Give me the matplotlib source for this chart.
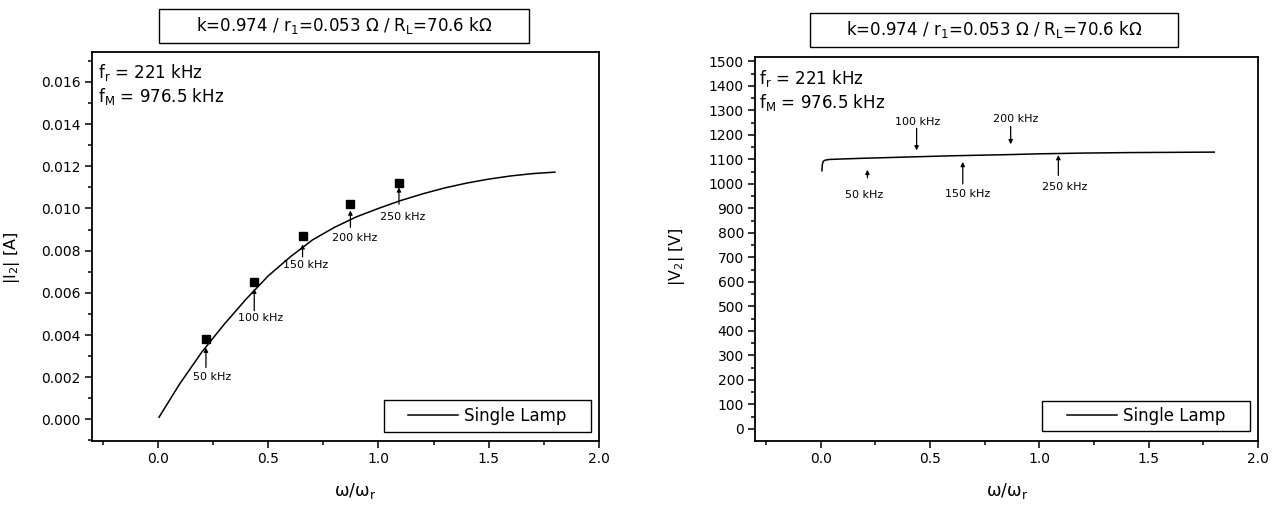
import matplotlib
matplotlib.use("Agg")
import matplotlib.pyplot as plt
from matplotlib.patches import Rectangle
from matplotlib.ticker import MultipleLocator, FormatStrFormatter

plt.rcParams['font.family'] = ['DejaVu Sans']
plt.rcParams['mathtext.fontset'] = 'dejavusans'
plt.rcParams['mathtext.default'] = 'regular'

# ---- data: left panel (|I2| vs w/wr) ----
curve_i_x = [0.005, 0.1, 0.2, 0.3, 0.4, 0.5, 0.6, 0.7, 0.8, 0.9, 1.0, 1.1, 1.2, 1.3, 1.4, 1.5, 1.6, 1.7, 1.8]
curve_i_y = [0.0001, 0.0017, 0.0032, 0.0045, 0.0057, 0.0068, 0.0077, 0.0085, 0.0091, 0.0096,
             0.01000, 0.01037, 0.01069, 0.01097, 0.01120, 0.01139, 0.01154, 0.01165, 0.01172]
meas_x = [0.218, 0.437, 0.656, 0.873, 1.093]
meas_y = [0.0038, 0.0065, 0.0087, 0.0102, 0.0112]
freq_labels = ['50 kHz', '100 kHz', '150 kHz', '200 kHz', '250 kHz']
i_arrow_tail = [0.00246, 0.00515, 0.0077, 0.0091, 0.0102]
i_arrow_tip = [0.0034, 0.0062, 0.0083, 0.0099, 0.0110]
i_label_x = [0.245, 0.467, 0.668, 0.894, 1.11]
i_label_y = [0.0020, 0.0048, 0.0073, 0.0086, 0.0096]

# ---- data: right panel (|V2| vs w/wr) ----
curve_v_x = [0.006, 0.008, 0.012, 0.02, 0.04, 0.1, 0.2, 0.44, 0.6, 0.87, 1.0, 1.2, 1.4, 1.6, 1.8]
curve_v_y = [1054, 1080, 1092, 1097, 1100, 1102, 1105, 1111, 1115, 1120, 1123, 1126, 1128, 1129, 1130]
v_arrow_x = [0.214, 0.439, 0.65, 0.869, 1.087]
v_arrow_tail = [1025, 1227, 1000, 1235, 1035]
v_arrow_tip = [1058, 1137, 1090, 1162, 1118]
v_label_x = [0.20, 0.445, 0.67, 0.89, 1.115]
v_label_y = [955, 1254, 960, 1264, 986]

title_text = 'k=0.974 / r$_1$=0.053 \u03a9 / R$_L$=70.6 k\u03a9'
info_text = 'f$_r$ = 221 kHz\nf$_M$ = 976.5 kHz'

fig = plt.figure(figsize=(12.82, 5.05), dpi=100)
W, H = 1282.0, 505.0

def ax_rect(x0, y0, x1, y1):
    return [x0 / W, 1 - y1 / H, (x1 - x0) / W, (y1 - y0) / H]

axL = fig.add_axes(ax_rect(91.7, 52.3, 599, 440.7))
axR = fig.add_axes(ax_rect(755, 57.3, 1258, 440.7))

def style(ax, xlab_pos):
    for s in ax.spines.values():
        s.set_linewidth(1.3)
    ax.tick_params(which='both', direction='out', top=False, right=False, labelsize=10, pad=3)
    ax.tick_params(which='major', length=5, width=1.1)
    ax.tick_params(which='minor', length=3, width=1.1)
    ax.set_xlim(-0.3, 2.0)
    ax.xaxis.set_major_locator(MultipleLocator(0.5))
    ax.xaxis.set_minor_locator(MultipleLocator(0.25))
    ax.xaxis.set_major_formatter(FormatStrFormatter('%.1f'))
    ax.set_xlabel('\u03c9/\u03c9$_r$', fontsize=12.5)
    ax.xaxis.set_label_coords(*xlab_pos)

def legend_box(ax, x0, y0, x1, y1):
    r = Rectangle((x0, y0), x1 - x0, y1 - y0, transform=ax.transAxes, fill=True,
                  facecolor='white', edgecolor='black', lw=1.0, zorder=4)
    ax.add_patch(r)
    leg = ax.legend(loc='center', bbox_to_anchor=((x0 + x1) / 2, (y0 + y1) / 2),
                    frameon=False, fontsize=12, handlelength=3.0, handletextpad=0.35,
                    borderpad=0.0, borderaxespad=0.0)
    leg.set_zorder(5)

def arrows(ax, xs, tails, tips, lxs, lys):
    for x, t0, t1, lx, ly, lab in zip(xs, tails, tips, lxs, lys, freq_labels):
        ax.annotate('', xy=(x, t1), xytext=(x, t0),
                    arrowprops=dict(arrowstyle='-|>', lw=0.9, color='black', mutation_scale=6,
                                    shrinkA=0, shrinkB=0))
        ax.text(lx, ly, lab, fontsize=8, ha='center', va='center')

# left panel
style(axL, (0.519, -0.104))
axL.set_ylim(-0.00101, 0.0174)
axL.yaxis.set_major_locator(MultipleLocator(0.002))
axL.yaxis.set_minor_locator(MultipleLocator(0.001))
axL.yaxis.set_major_formatter(FormatStrFormatter('%.3f'))
axL.set_ylabel('|I$_2$| [A]', fontsize=11.5)
axL.yaxis.set_label_coords(-0.137, 0.47)
axL.plot(curve_i_x, curve_i_y, color='black', lw=1.1, label='Single Lamp')
axL.plot(meas_x, meas_y, 's', color='black', markersize=5.3, linestyle='none')
arrows(axL, meas_x, i_arrow_tail, i_arrow_tip, i_label_x, i_label_y)
axL.text(0.013, 0.975, info_text, transform=axL.transAxes,
         fontsize=12, ha='left', va='top', linespacing=1.2)
legend_box(axL, 0.576, 0.0232, 0.9836, 0.1048)

# right panel
style(axR, (0.502, -0.105))
axR.set_ylim(-48, 1517)
axR.yaxis.set_major_locator(MultipleLocator(100))
axR.yaxis.set_minor_locator(MultipleLocator(50))
axR.set_ylabel('|V$_2$| [V]', fontsize=11.5)
axR.yaxis.set_label_coords(-0.135, 0.48)
axR.plot(curve_v_x, curve_v_y, color='black', lw=1.1, label='Single Lamp')
arrows(axR, v_arrow_x, v_arrow_tail, v_arrow_tip, v_label_x, v_label_y)
axR.text(0.0085, 0.972, info_text, transform=axR.transAxes,
         fontsize=12, ha='left', va='top', linespacing=1.2)
legend_box(axR, 0.5706, 0.0253, 0.984, 0.1036)

# title boxes
def title_box(x0, y0, x1, y1):
    r = Rectangle((x0 / W, 1 - y1 / H), (x1 - x0) / W, (y1 - y0) / H, transform=fig.transFigure,
                  fill=False, edgecolor='black', lw=1.0)
    fig.patches.append(r)
    fig.text((x0 + x1) / 2 / W, 1 - (y0 + y1) / 2 / H, title_text, ha='center', va='center', fontsize=12)

title_box(159, 9.3, 529, 42.7)
title_box(810, 13.3, 1178, 46.7)

fig.savefig('out.png', dpi=100)
